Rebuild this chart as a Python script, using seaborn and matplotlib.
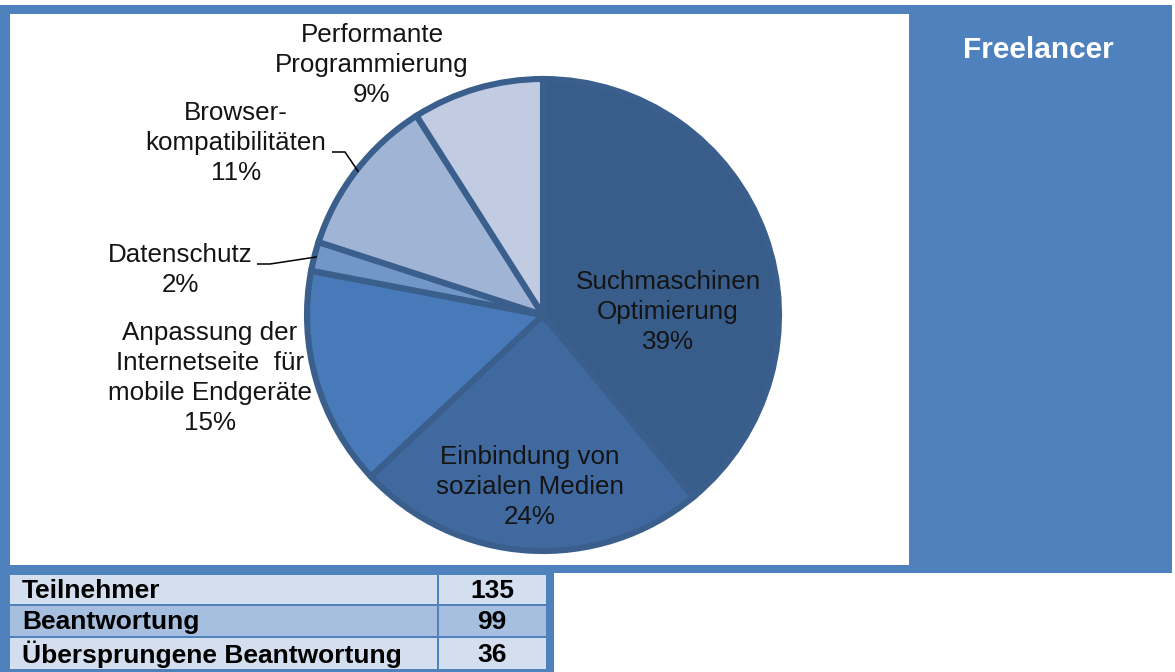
import numpy as np
import pandas as pd
import matplotlib
matplotlib.use('Agg')
import matplotlib.pyplot as plt
from matplotlib.patches import Rectangle
import seaborn as sns

# data
themes = ['Suchmaschinen\nOptimierung', 'Einbindung von\nsozialen Medien',
          'Anpassung der\nInternetseite  für\nmobile Endgeräte', 'Datenschutz',
          'Browser-\nkompatibilitäten', 'Performante\nProgrammierung']
shares = [39, 24, 15, 2, 11, 9]
slice_colors = ['#385D8A', '#4069A0', '#4879B8', '#7396C9', '#A0B4D6', '#C1CCE2']

table_rows = ['Teilnehmer', 'Beantwortung', 'Übersprungene Beantwortung']
table_values = [135, 99, 36]
row_colors = ['#D3DFEE', '#A7BFDE', '#D3DFEE']

title = 'Freelancer'

df = pd.DataFrame({'theme': themes, 'share': shares})

sns.set_theme(style='white')
plt.rcParams['font.family'] = ['Liberation Sans', 'DejaVu Sans']

W, H = 1175, 672
fig = plt.figure(figsize=(W / 100, H / 100), dpi=100)
fig.patch.set_facecolor('white')

blue = '#4F81BD'
edge = '#3A5F8C'


def box(x0, y0, x1, y1):
    # pixel box (top-left origin) -> figure fraction [l, b, w, h]
    return [x0 / W, 1 - y1 / H, (x1 - x0) / W, (y1 - y0) / H]


def rect(x0, y0, x1, y1, color):
    l, b, w, h = box(x0, y0, x1, y1)
    fig.add_artist(Rectangle((l, b), w, h, transform=fig.transFigure,
                             facecolor=color, edgecolor='none', zorder=0))


# frame and panels
rect(0, 5, 1172, 573, blue)
rect(0, 573, 554, 672, blue)
rect(10, 14, 909, 565, 'white')

# pie: center (543, 315) px, radius ~236 px
cx, cy, R = 543, 315, 236
ax = fig.add_axes(box(10, 14, 909, 565))
palette = sns.color_palette(slice_colors)
wedges, _ = ax.pie(df['share'], colors=palette, startangle=90, counterclock=False,
                   radius=1, wedgeprops=dict(edgecolor=edge, linewidth=4.4))
ax.set_xlim((10 - cx) / R, (909 - cx) / R)
ax.set_ylim((cy - 565) / R, (cy - 14) / R)
ax.set_aspect('auto')
ax.axis('off')

# label anchors in pixels (center of text block)
label_px = [(668, 312), (530, 487), (210, 378), (180, 270), (236, 143), (372, 65)]
txt_color = '#141414'
for name, val, (px, py) in zip(df['theme'], df['share'], label_px):
    ax.text((px - cx) / R, (cy - py) / R, f'{name}\n{val}%', ha='center', va='center',
            fontsize=18.7, color=txt_color, linespacing=1.3)

# leader lines for small outside slices
leader_px = {3: (257, 264), 4: (332, 152)}
for i, (px, py) in leader_px.items():
    w = wedges[i]
    mid = np.deg2rad((w.theta1 + w.theta2) / 2)
    x0, y0 = (px - cx) / R, (cy - py) / R
    ax.plot([x0, x0 + 13 / R, np.cos(mid) * 0.99], [y0, y0, np.sin(mid) * 0.99],
            color='black', lw=1.1, solid_capstyle='butt')

fig.text(1038 / W, 1 - 50 / H, title, ha='center', va='center', fontsize=21.5,
         fontweight='bold', color='white')

# table
row_y = [(575, 604), (606, 636), (638, 669)]
for (label, value, col), (y0, y1) in zip(zip(table_rows, table_values, row_colors), row_y):
    rect(10, y0, 437, y1, col)
    rect(439, y0, 546, y1, col)
    ym = 1 - ((y0 + y1) / 2 + 1) / H
    fig.text(22 / W, ym, label, ha='left', va='center', fontsize=19,
             fontweight='bold', color='black')
    fig.text(492 / W, ym, str(value), ha='center', va='center', fontsize=19,
             fontweight='bold', color='black')

fig.savefig('out.png', dpi=100, facecolor='white')
